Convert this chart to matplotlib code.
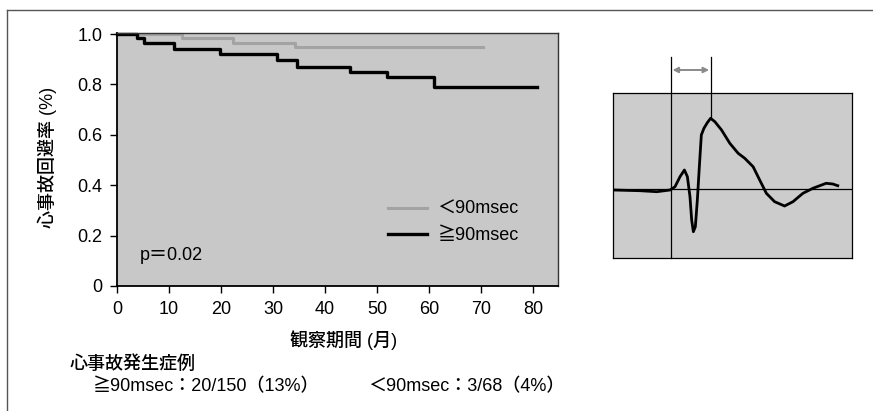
import numpy as np
import matplotlib
matplotlib.use("Agg")
import matplotlib.pyplot as plt
from matplotlib.lines import Line2D

plt.rcParams['font.family'] = ['Liberation Sans', 'Noto Sans CJK JP']
plt.rcParams['font.weight'] = 'medium'

# 生存曲線 (Kaplan-Meier) : 観察期間(月) と 心事故回避率
t_lt = [0, 12.5, 22.3, 34.2, 70.4]
s_lt = [1.0, 0.986, 0.966, 0.947, 0.947]
t_ge = [0, 3.8, 5.2, 11.0, 19.8, 30.7, 34.6, 44.8, 51.9, 61.0, 80.8]
s_ge = [1.0, 0.983, 0.963, 0.940, 0.921, 0.897, 0.870, 0.850, 0.828, 0.791, 0.791]
label_lt = '＜90msec'
label_ge = '≧90msec'

xticks = [0, 10, 20, 30, 40, 50, 60, 70, 80]
yticks = [0, 0.2, 0.4, 0.6, 0.8, 1.0]
ytick_labels = ['0', '0.2', '0.4', '0.6', '0.8', '1.0']

# 右側の波形 (時間, 振幅)
wave_t = [0, 27, 44, 57.3, 62.3, 67.3, 71.7, 74.7, 77.3, 79, 80.7, 82.7, 84.7,
          86.7, 88.7, 91.3, 94.7, 98, 102.3, 109, 117.3, 125.7, 132.3, 140.7,
          147.3, 154, 162.3, 172.3, 180.7, 190.7, 200.7, 214, 220.7, 225.7]
wave_a = [-1, -1.7, -2.7, -1, 2.3, 12.3, 19, 12.3, -7.7, -31, -42.7, -37.7, -11,
          22.3, 54, 60.7, 66.3, 70.7, 67.3, 59, 45.7, 35.7, 30.7, 22.3,
          9, -4.3, -12.7, -17, -12.7, -4.3, 0.7, 5.7, 5, 3.3]
onset_t = 58.3
peak_t = 98
peak_a = 70.7

FS = 13
W, H = 873, 411
fig = plt.figure(figsize=(W / 100, H / 100), dpi=100)
fig.patch.set_facecolor('white')

# 外枠 (上と左のみ)
fig.add_artist(Line2D([7 / W, 1], [1 - 10 / H, 1 - 10 / H], color='#555555', lw=1))
fig.add_artist(Line2D([7 / W, 7 / W], [0, 1 - 10 / H], color='#555555', lw=1))

ax = fig.add_axes([117 / W, (H - 286) / H, (558 - 117) / W, (286 - 33) / H])
ax.set_facecolor('#c8c8c8')
ax.step(t_lt, s_lt, where='post', color='#a3a3a3', lw=2.2, label=label_lt, clip_on=False)
ax.step(t_ge, s_ge, where='post', color='black', lw=2.4, label=label_ge, clip_on=False)
ax.set_xlim(0, 84.8)
ax.set_ylim(0, 1.004)
ax.set_xticks(xticks)
ax.set_yticks(yticks)
ax.set_yticklabels(ytick_labels)
ax.tick_params(direction='out', length=5, width=1, labelsize=FS, pad=5.5)
for side in ['left', 'bottom']:
    ax.spines[side].set_linewidth(1.3)
for side in ['top', 'right']:
    ax.spines[side].set_linewidth(1.0)
    ax.spines[side].set_color('#333333')

ax.text(4.4, 0.12, 'p＝0.02', fontsize=FS, va='center', ha='left')
ax.legend(loc='upper left', bbox_to_anchor=(0.614, 0.335), frameon=False,
          fontsize=FS, handlelength=2.2, handletextpad=0.55,
          labelspacing=0.5, borderpad=0, borderaxespad=0)

fig.text(47 / W, 1 - 157 / H, '心事故回避率 (%)', rotation=90,
         ha='center', va='center', fontsize=FS)
fig.text(344 / W, 1 - 340 / H, '観察期間 (月)', ha='center', va='center', fontsize=FS)
fig.text(70 / W, 1 - 364 / H, '心事故発生症例', ha='left', va='center', fontsize=FS)
fig.text(93 / W, 1 - 387 / H, '≧90msec：20/150（13%）', ha='left', va='center', fontsize=FS)
fig.text(368 / W, 1 - 387 / H, '＜90msec：3/68（4%）', ha='left', va='center', fontsize=FS)

# 波形
ax2 = fig.add_axes([613 / W, (H - 258) / H, (852 - 613) / W, (258 - 93) / H])
ax2.set_facecolor('#cccccc')
ax2.set_xlim(0, 240)
ax2.set_ylim(-69, 96)
ax2.set_xticks([])
ax2.set_yticks([])
for s in ax2.spines.values():
    s.set_linewidth(0.9)
ax2.axhline(0, color='black', lw=0.9)
ax2.plot(wave_t, wave_a, color='black', lw=2.0, solid_joinstyle='round')
ax2.plot([onset_t, onset_t], [-69, 132], color='black', lw=0.9, clip_on=False)
ax2.plot([peak_t, peak_t], [peak_a, 132], color='black', lw=0.9, clip_on=False)
ax2.annotate('', xy=(onset_t + 1.5, 119), xytext=(peak_t - 1.5, 119),
             arrowprops=dict(arrowstyle='<|-|>', color='#8a8a8a', lw=1.4,
                             mutation_scale=8, shrinkA=0, shrinkB=0),
             annotation_clip=False)

fig.savefig('out.png', dpi=100)
